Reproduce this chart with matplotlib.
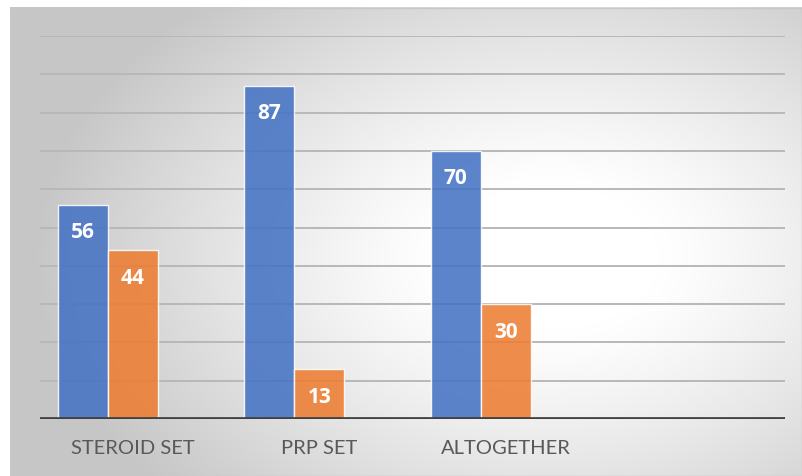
import numpy as np
import matplotlib
matplotlib.use("Agg")
import matplotlib.pyplot as plt

categories = ["STEROID SET", "PRP SET", "ALTOGETHER", ""]
series_blue = [56, 87, 70]
series_orange = [44, 13, 30]
y_ticks = list(range(0, 101, 10))

W, H = 803, 476
fig = plt.figure(figsize=(W / 100, H / 100), dpi=100)
fig.patch.set_facecolor("white")

# background chart area with radial gradient
x0, y0 = 10, 7
bw, bh = W - x0, H - y0
bg = fig.add_axes([x0 / W, 0, bw / W, bh / H])
xx, yy = np.meshgrid(np.arange(bw), np.arange(bh))
cx, cy = 540, 250
r = np.sqrt(((xx - cx) / 540.0) ** 2 + ((yy - cy) / 360.0) ** 2)
r = np.clip(r, 0, 1)
t = np.clip((r - 0.2) / 0.75, 0, 1) ** 1.2
val = 1.0 - t * (1.0 - 0.78)
img = np.dstack([val, val, val])
bg.imshow(img, aspect="auto", interpolation="bilinear")
bg.set_axis_off()
bg.add_patch(plt.Rectangle((0, 0), bw - 1, bh - 1, fill=False, ec="#c8c8c8", lw=1))

# main axes
left, right = 40, 785
bottom_px, top_px = 419, 36
ax = fig.add_axes([left / W, (H - bottom_px) / H, (right - left) / W, (bottom_px - top_px) / H])
ax.patch.set_alpha(0)
ax.set_xlim(-0.5, len(categories) - 0.5)
ax.set_ylim(0, 100)

bar_w = 50 / 186
xs = np.arange(len(series_blue))
for yv in y_ticks[1:]:
    ax.axhline(yv, color="#b8b8b8", lw=1.4, zorder=1)

bb = ax.bar(xs - bar_w, series_blue, width=bar_w, color="#4472C4", alpha=0.87,
            edgecolor=(1, 1, 1, 0.6), linewidth=1, zorder=2)
bo = ax.bar(xs, series_orange, width=bar_w, color="#ED7D31", alpha=0.87,
            edgecolor=(1, 1, 1, 0.6), linewidth=1, zorder=2)

for bars, vals in ((bb, series_blue), (bo, series_orange)):
    for b, v in zip(bars, vals):
        ax.annotate(str(v), (b.get_x() + b.get_width() / 2, v), xytext=(0, -28),
                    textcoords="offset pixels", ha="center", va="center",
                    color="white", fontsize=15, fontweight="bold", family="Open Sans", zorder=3)

ax.axhline(0, color="#404040", lw=3.4, zorder=4)
for s in ax.spines.values():
    s.set_visible(False)
ax.set_yticks([])
ax.set_xticks(np.arange(len(categories)))
ax.set_xticklabels(categories, family="Lato", fontsize=14.5, color="#595959")
ax.tick_params(axis="x", length=0, pad=15)

fig.savefig("out.png", dpi=100)
